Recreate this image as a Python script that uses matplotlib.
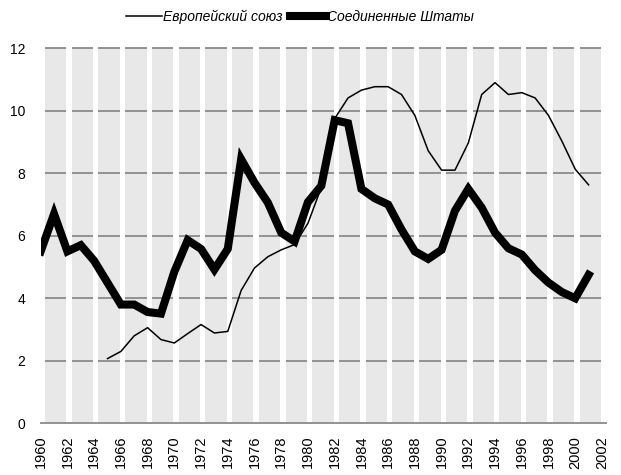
import matplotlib.pyplot as plt
import numpy as np

plt.rcParams['font.family'] = ['Liberation Sans', 'DejaVu Sans']

# --- Data ---
us_years = list(range(1960, 2002))
us_values = [5.5, 6.7, 5.5, 5.7, 5.2, 4.5, 3.8, 3.8, 3.56, 3.51,
             4.85, 5.86, 5.58, 4.92, 5.58, 8.45, 7.7, 7.06, 6.1, 5.82,
             7.08, 7.6, 9.7, 9.6, 7.5, 7.2, 7.0, 6.2, 5.5, 5.26,
             5.55, 6.8, 7.5, 6.9, 6.1, 5.6, 5.4, 4.9, 4.5, 4.2,
             4.0, 4.75]

eu_years = list(range(1965, 2002))
eu_values = [2.07, 2.3, 2.8, 3.06, 2.68, 2.57, 2.87, 3.16, 2.89, 2.94,
             4.25, 4.97, 5.33, 5.55, 5.72, 6.4, 7.55, 9.75, 10.41, 10.66,
             10.77, 10.77, 10.52, 9.85, 8.72, 8.1, 8.1, 8.97, 10.52, 10.9,
             10.52, 10.58, 10.41, 9.85, 9.03, 8.13, 7.63]

xtick_years = list(range(1960, 2003, 2))
ytick_values = [0, 2, 4, 6, 8, 10, 12]

# --- Figure ---
fig = plt.figure(figsize=(6.21, 4.75), dpi=100)
ax = fig.add_axes([0.0655, 0.1088, 0.9103, 0.7929])

# shaded two-year bands, with grid lines drawn only across the bands
band_starts = np.arange(1960.32, 2001, 2)
band_width = 1.6
ax.bar(band_starts, 12, width=band_width, align='edge', color='#e8e8e8', zorder=0)
for y in ytick_values[1:]:
    ax.hlines([y] * len(band_starts), band_starts, band_starts + band_width,
              color='#8a8a8a', lw=1.3, zorder=1)

ax.plot(eu_years, eu_values, color='black', lw=1.1, zorder=3,
        label='Европейский союз')
ax.plot(us_years, us_values, color='black', lw=5.8, zorder=4,
        solid_joinstyle='miter', label='Соединенные Штаты')

ax.set_xlim(1960, 2002.3)
ax.set_ylim(0, 12.05)
ax.set_xticks(xtick_years)
ax.set_xticklabels([str(y) for y in xtick_years], rotation=90)
ax.set_yticks(ytick_values)
ax.tick_params(axis='both', length=0, labelsize=10, colors='black')
ax.tick_params(axis='x', labelsize=10.5, pad=9)
ax.tick_params(axis='y', pad=11)

for side in ['top', 'right', 'left']:
    ax.spines[side].set_visible(False)
ax.spines['bottom'].set_color('#8a8a8a')
ax.spines['bottom'].set_linewidth(1.3)

fig.legend(loc='center', bbox_to_anchor=(0.483, 0.964), ncol=2, frameon=False,
           prop={'style': 'italic', 'size': 10}, handlelength=2.6,
           handletextpad=0.1, columnspacing=0.5)

fig.savefig('out.png', dpi=100)
